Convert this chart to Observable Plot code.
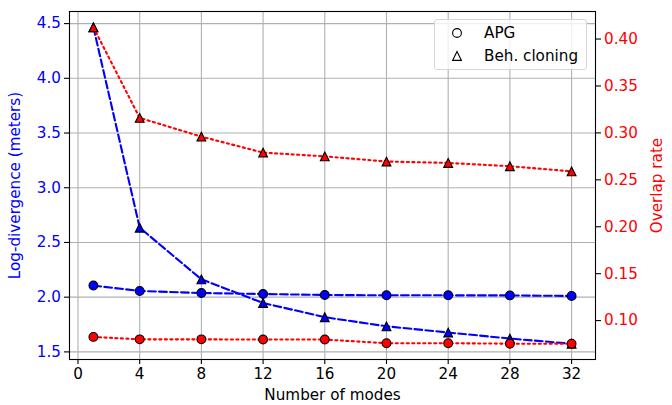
<!DOCTYPE html>
<html><head><meta charset="utf-8">
<script src="https://cdn.jsdelivr.net/npm/d3@7"></script>
<script src="https://cdn.jsdelivr.net/npm/@observablehq/plot@0.6"></script>
<style>
body{margin:0;background:#fff;}
#wrap{position:relative;width:672px;height:405px;font-family:"DejaVu Sans",sans-serif;}
#legend{position:absolute;left:434px;top:19px;width:153px;height:51px;box-sizing:border-box;border:1px solid #d6d6d6;border-radius:3px;background:rgba(255,255,255,0.8);font-size:15.2px;color:#000;}
.row{position:absolute;left:0;height:20px;display:flex;align-items:center;white-space:nowrap;}
.row svg{margin-left:16px;margin-right:21px;}
</style></head><body><div id="wrap"></div>
<script>
const modes = [1, 4, 8, 12, 16, 20, 24, 28, 32];
const apgDivergence = [2.106, 2.057, 2.038, 2.029, 2.020, 2.017, 2.017, 2.016, 2.011];
const bcDivergence = [4.466, 2.635, 2.163, 1.947, 1.817, 1.734, 1.677, 1.622, 1.575];
const apgOverlap = [0.0826, 0.0800, 0.0800, 0.0798, 0.0798, 0.0759, 0.0759, 0.0754, 0.0754];
const bcOverlap = [0.4125, 0.316, 0.296, 0.279, 0.275, 0.2695, 0.268, 0.2645, 0.259];
const xTicks = [0, 4, 8, 12, 16, 20, 24, 28, 32];
const leftTicks = [1.5, 2.0, 2.5, 3.0, 3.5, 4.0, 4.5];
const rightTicks = [0.10, 0.15, 0.20, 0.25, 0.30, 0.35, 0.40];
const methods = ["APG", "Beh. cloning"];

function pad(arr) {
  const lo = d3.min(arr), hi = d3.max(arr), s = hi - lo;
  return [lo - 0.05 * s, hi + 0.05 * s];
}
const xDomain = pad(modes);
const leftDomain = pad(apgDivergence.concat(bcDivergence));
const rightDomain = pad(apgOverlap.concat(bcOverlap));
const toLeft = d3.scaleLinear().domain(rightDomain).range(leftDomain);
const toRight = toLeft.copy().domain(leftDomain).range(rightDomain);

const rows = (vals, f) => modes.map((m, i) => ({mode: m, v: f(vals[i])}));
const apgDivRows = rows(apgDivergence, d => d);
const bcDivRows = rows(bcDivergence, d => d);
const apgOvRows = rows(apgOverlap, toLeft);
const bcOvRows = rows(bcOverlap, toLeft);

const tri = {draw(ctx, size) {
  const h = Math.sqrt(size / Math.PI);
  ctx.moveTo(0, -h); ctx.lineTo(h, h); ctx.lineTo(-h, h); ctx.closePath();
}};
const R = 4.4;
const FS = 15.2;
const dashed = "7.7,3.3", dotted = "2.1,3.4";
const series = (data, color, dash, sym) => [
  Plot.line(data, {x: "mode", y: "v", stroke: color, strokeWidth: 2.1, strokeDasharray: dash}),
  Plot.dot(data, {x: "mode", y: "v", symbol: sym, r: R, fill: color, stroke: "black", strokeWidth: 1.1})
];

const chart = Plot.plot({
  width: 672, height: 405,
  marginLeft: 69, marginRight: 77, marginTop: 11, marginBottom: 46,
  style: {fontFamily: "DejaVu Sans, sans-serif", fontSize: FS + "px", background: "white"},
  x: {domain: xDomain},
  y: {domain: leftDomain},
  marks: [
    Plot.gridX(xTicks, {stroke: "#b0b0b0", strokeOpacity: 1, strokeWidth: 1.1}),
    Plot.gridY(leftTicks, {stroke: "#b0b0b0", strokeOpacity: 1, strokeWidth: 1.1}),
    ...series(apgDivRows, "blue", dashed, "circle"),
    ...series(bcDivRows, "blue", dashed, tri),
    ...series(apgOvRows, "red", dotted, "circle"),
    ...series(bcOvRows, "red", dotted, tri),
    Plot.axisX({ticks: xTicks, tickSize: 5, tickPadding: 3.5, tickFormat: d3.format("d"), fontSize: FS,
      stroke: "black", fill: "black", strokeWidth: 1.1,
      label: "Number of modes", labelAnchor: "center", labelArrow: "none", labelOffset: 40}),
    Plot.axisY({anchor: "left", ticks: leftTicks, tickSize: 5, tickPadding: 3.5, tickFormat: d3.format(".1f"), fontSize: FS,
      stroke: "black", fill: "blue", strokeWidth: 1.1,
      label: "Log-divergence (meters)", labelAnchor: "center", labelArrow: "none", labelOffset: 60}),
    Plot.axisY({anchor: "right", ticks: rightTicks.map(toLeft), tickSize: 5, tickPadding: 3.5, fontSize: FS,
      tickFormat: d => d3.format(".2f")(toRight(d)),
      stroke: "black", fill: "red", strokeWidth: 1.1,
      label: "Overlap rate", labelAnchor: "center", labelArrow: "none", labelOffset: 66}),
    Plot.frame({stroke: "black", strokeWidth: 1.1})
  ]
});
const wrap = document.getElementById("wrap");
wrap.appendChild(chart);

const legend = document.createElement("div");
legend.id = "legend";
const symPaths = [d3.symbol(d3.symbolCircle, R * R * Math.PI)(), d3.symbol(tri, R * R * Math.PI)()];
methods.forEach((m, i) => {
  const row = document.createElement("div");
  row.className = "row";
  row.style.top = (3 + i * 23) + "px";
  row.innerHTML = `<svg width="12" height="12" viewBox="-6 -6 12 12"><path d="${symPaths[i]}" fill="none" stroke="black" stroke-width="1.1"/></svg><span>${m}</span>`;
  legend.appendChild(row);
});
wrap.appendChild(legend);
</script></body></html>
